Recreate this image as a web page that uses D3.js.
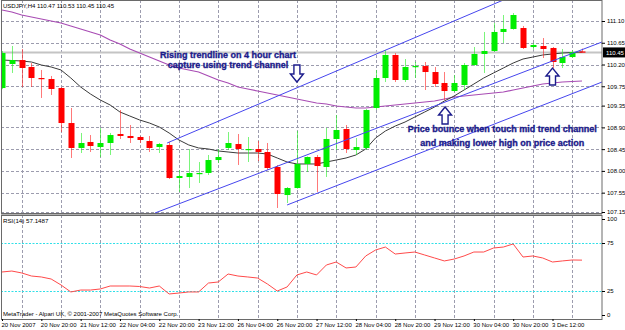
<!DOCTYPE html>
<html>
<head>
<meta charset="utf-8">
<title>USDJPY H4</title>
<script src="https://cdn.jsdelivr.net/npm/d3@7"></script>
<style>
  body { margin: 0; background: #fff; }
  text { font-family: "Liberation Sans", Arial, sans-serif; }
</style>
</head>
<body>
<div id="chart"></div>
<script>

  // bar labels along the bottom, one every 4 bars (H4)
  var timeLabels = ["20 Nov 2007", "20 Nov 20:00", "21 Nov 12:00", "22 Nov 04:00", "22 Nov 20:00",
    "23 Nov 12:00", "26 Nov 04:00", "26 Nov 20:00", "27 Nov 12:00", "28 Nov 04:00",
    "28 Nov 20:00", "29 Nov 12:00", "30 Nov 04:00", "30 Nov 20:00", "3 Dec 12:00"];
  var timeLabelBars = [0, 4, 8, 12, 16, 20, 24, 28, 32, 36, 40, 44, 48, 52, 56];
  var gridBars = [2, 6, 10, 14, 18, 22, 26, 30, 34, 38, 42, 46, 50, 54, 58];

  var priceTicks = [111.10, 110.65, 110.20, 109.75, 109.35, 108.90, 108.45, 108.00, 107.55, 107.15];
  var rsiTicks = [100, 75, 25, 0];
  var rsiLevels = [75, 25];

  var openP = [109.714, 110.211, 110.293, 110.149, 109.921, 109.900, 109.714, 108.990, 108.474, 108.598,
    108.494, 108.577, 108.763, 108.722, 108.701, 108.618, 108.494, 108.536, 107.853, 107.874,
    107.936, 107.957, 108.225, 108.474, 108.556, 108.432, 108.453, 108.391, 108.081, 107.501,
    107.646, 108.143, 108.287, 108.081, 108.660, 108.866, 108.432, 108.474, 109.301, 109.921,
    110.397, 109.880, 110.149, 110.169, 110.045, 109.818, 109.652, 109.776, 110.190, 110.418,
    110.480, 110.873, 110.935, 110.955, 110.562, 110.583, 110.542, 110.231, 110.355, 110.47];
  var highP = [110.480, 110.583, 110.521, 110.231, 110.087, 109.963, 109.730, 109.301, 108.784, 108.742,
    108.887, 108.784, 109.259, 108.949, 108.722, 108.722, 108.577, 108.598, 108.019, 108.453,
    108.184, 108.329, 108.453, 108.804, 108.763, 108.701, 108.618, 108.577, 108.122, 107.667,
    108.825, 108.300, 108.329, 108.887, 109.156, 108.949, 108.680, 109.280, 110.087, 110.500,
    110.438, 110.314, 110.252, 110.252, 110.149, 110.045, 109.983, 110.231, 110.562, 110.873,
    111.059, 111.224, 111.265, 110.997, 110.645, 110.748, 110.562, 110.521, 110.500, 110.53];
  var lowP = [109.690, 110.025, 109.735, 109.735, 109.508, 109.570, 108.804, 108.267, 108.370, 108.391,
    108.287, 108.329, 108.660, 108.577, 108.577, 108.391, 108.370, 107.832, 107.564, 107.646,
    107.750, 107.915, 108.163, 108.432, 108.122, 108.184, 108.205, 108.019, 107.233, 107.336,
    107.630, 107.977, 107.564, 107.874, 108.432, 108.370, 108.329, 108.432, 109.259, 109.838,
    109.838, 109.838, 109.921, 109.673, 109.735, 109.466, 109.632, 109.673, 110.170, 110.025,
    110.459, 110.645, 110.920, 110.521, 110.500, 110.335, 110.128, 110.128, 110.340, 110.45];
  var closeP = [110.438, 110.293, 110.128, 109.921, 109.900, 109.694, 108.990, 108.474, 108.577, 108.515,
    108.577, 108.742, 108.722, 108.680, 108.639, 108.474, 108.556, 107.853, 107.894, 107.957,
    107.957, 108.225, 108.287, 108.577, 108.453, 108.453, 108.391, 108.060, 107.522, 107.646,
    108.143, 108.287, 108.101, 108.660, 108.846, 108.453, 108.494, 109.259, 109.921, 110.397,
    109.880, 110.149, 110.169, 110.045, 109.797, 109.652, 109.818, 110.190, 110.418, 110.480,
    110.873, 110.935, 111.224, 110.542, 110.604, 110.521, 110.252, 110.355, 110.459, 110.45];

  // moving averages
  var maDark = [110.293, 110.283, 110.273, 110.252, 110.190, 110.149, 110.087, 109.921, 109.735, 109.590,
    109.466, 109.363, 109.218, 109.135, 109.053, 108.990, 108.908, 108.784, 108.639, 108.536,
    108.474, 108.453, 108.412, 108.391, 108.370, 108.370, 108.370, 108.349, 108.267, 108.184,
    108.143, 108.143, 108.143, 108.184, 108.225, 108.267, 108.329, 108.453, 108.680, 108.825,
    108.928, 109.011, 109.115, 109.218, 109.321, 109.446, 109.549, 109.673, 109.797, 109.921,
    110.025, 110.128, 110.231, 110.314, 110.355, 110.397, 110.418, 110.438, 110.449, 110.459];
  var maSlow = [111.327, 111.286, 111.224, 111.183, 111.141, 111.100, 111.059, 110.997, 110.935, 110.873,
    110.810, 110.707, 110.624, 110.521, 110.438, 110.355, 110.273, 110.190, 110.128, 110.087,
    110.045, 109.963, 109.880, 109.818, 109.735, 109.694, 109.652, 109.611, 109.570, 109.528,
    109.487, 109.446, 109.404, 109.384, 109.342, 109.321, 109.301, 109.301, 109.321, 109.342,
    109.363, 109.384, 109.404, 109.425, 109.446, 109.487, 109.528, 109.549, 109.570, 109.590,
    109.611, 109.632, 109.673, 109.714, 109.756, 109.797, 109.818, 109.838, 109.849, 109.859];

  var rsi = [44.8, 45.8, 43.8, 40.6, 39.6, 37.5, 31.3, 24.0, 26.0, 26.0,
    27.1, 30.2, 30.2, 30.2, 29.7, 28.1, 30.2, 21.9, 22.9, 24.0,
    24.0, 33.3, 34.4, 42.7, 40.6, 39.6, 38.5, 32.3, 25.0, 29.2,
    41.7, 44.8, 41.7, 52.1, 55.2, 49.0, 50.0, 61.5, 67.7, 70.8,
    63.5, 64.6, 65.6, 62.5, 59.4, 56.3, 58.3, 61.5, 65.6, 65.6,
    69.8, 70.8, 74.0, 60.4, 61.5, 59.4, 55.2, 56.3, 57.3, 57.1487];

  // trend channel: [bar1, price1, bar2, price2]
  var channel = [
    [16.8, 108.577, 51.0, 111.534],
    [15.56, 107.129, 61.04, 110.666],
    [29.0, 107.295, 61.04, 109.838]
  ];

  var lastPrice = 110.45;
  var legendText = "USDJPY,H4  110.47 110.53 110.45 110.45";
  var rsiText = "RSI(14) 57.1487";
  var creditText = "MetaTrader - Alpari UK, \u00a9 2001-2007 MetaQuotes Software Corp.";

  // annotations: [bar, price, text]
  var notes = [
    [23.0, 110.335, "Rising trendline on 4 hour chart"],
    [23.0, 110.128, "capture using trend channel"],
    [50.9, 108.804, "Price bounce when touch mid trend channel"],
    [50.9, 108.515, "and making lower high on price action"]
  ];
  // arrows: [bar, tip price, direction]  (1 = down, -1 = up)
  var arrows = [[30.0, 109.838, 1], [45.07, 109.322, -1], [56.0, 110.128, -1]];

  var W = 625, H = 330;
  var left = 1, right = 602, mainTop = 0, mainBottom = 213, rsiTop = 215, rsiBottom = 319;

  var svg = d3.select("#chart").append("svg")
    .attr("width", W).attr("height", H);
  svg.append("rect").attr("width", W).attr("height", H).attr("fill", "#fff");

  var x = d3.scaleLinear().domain([0, 59]).range([2, 582]);
  var y = d3.scaleLinear().domain([107.15, 111.10]).range([212, 21]);
  var yr = d3.scaleLinear().domain([0, 100]).range([315, 219]);

  var defs = svg.append("defs");
  defs.append("clipPath").attr("id", "clipMain").append("rect")
    .attr("x", left).attr("y", mainTop).attr("width", right - left).attr("height", mainBottom - mainTop);
  defs.append("clipPath").attr("id", "clipRsi").append("rect")
    .attr("x", left).attr("y", rsiTop).attr("width", right - left).attr("height", rsiBottom - rsiTop);

  var gridColor = "#9c9cae";

  // grid
  var grid = svg.append("g");
  grid.selectAll(".hg").data(priceTicks).enter().append("line")
    .attr("x1", left).attr("x2", right)
    .attr("y1", function (d) { return Math.round(y(d)) + 0.5; })
    .attr("y2", function (d) { return Math.round(y(d)) + 0.5; })
    .attr("stroke", gridColor).attr("stroke-dasharray", "3,2");
  [[mainTop, mainBottom], [rsiTop, rsiBottom]].forEach(function (p) {
    grid.selectAll(null).data(gridBars).enter().append("line")
      .attr("x1", function (d) { return Math.round(x(d)) + 0.5; })
      .attr("x2", function (d) { return Math.round(x(d)) + 0.5; })
      .attr("y1", p[0]).attr("y2", p[1])
      .attr("stroke", gridColor).attr("stroke-dasharray", "3,2");
  });

  var main = svg.append("g").attr("clip-path", "url(#clipMain)");

  // bid line
  main.append("line")
    .attr("x1", left).attr("x2", right)
    .attr("y1", y(lastPrice)).attr("y2", y(lastPrice))
    .attr("stroke", "#c4c4c4").attr("stroke-width", 2);

  var line = d3.line()
    .x(function (d, i) { return x(i); })
    .y(function (d) { return y(d); });

  main.append("path").datum(maSlow).attr("d", line)
    .attr("fill", "none").attr("stroke", "#a84cb4").attr("stroke-width", 1.2);
  main.append("path").datum(maDark).attr("d", line)
    .attr("fill", "none").attr("stroke", "#3a3a3a").attr("stroke-width", 1);

  // candles
  var bars = d3.range(openP.length).map(function (i) {
    return { i: i, o: openP[i], h: highP[i], l: lowP[i], c: closeP[i] };
  });
  var candle = main.selectAll(".candle").data(bars).enter().append("g");
  candle.append("line")
    .attr("x1", function (d) { return Math.round(x(d.i)) + 0.5; })
    .attr("x2", function (d) { return Math.round(x(d.i)) + 0.5; })
    .attr("y1", function (d) { return y(d.h); })
    .attr("y2", function (d) { return y(d.l); })
    .attr("stroke", function (d) { return d.c >= d.o ? "#22ee22" : "#ff2020"; })
    .attr("stroke-opacity", 0.6);
  candle.append("rect")
    .attr("x", function (d) { return Math.round(x(d.i)) - 2.5; })
    .attr("width", 6)
    .attr("y", function (d) { return y(Math.max(d.o, d.c)); })
    .attr("height", function (d) { return Math.max(1.2, Math.abs(y(d.o) - y(d.c))); })
    .attr("fill", function (d) { return d.c >= d.o ? "#00ee00" : "#ff0000"; });

  // trend channel
  main.selectAll(".trend").data(channel).enter().append("line")
    .attr("x1", function (d) { return x(d[0]); })
    .attr("y1", function (d) { return y(d[1]); })
    .attr("x2", function (d) { return x(d[2]); })
    .attr("y2", function (d) { return y(d[3]); })
    .attr("stroke", "#4646ee").attr("stroke-width", 1);

  // arrows
  function arrowPath(cx, ty, dir) {
    var p = [[-3, -17], [3, -17], [3, -8], [6.5, -8], [0, 0], [-6.5, -8], [-3, -8]];
    return "M" + p.map(function (q) { return [cx + q[0], ty + q[1] * dir].join(","); }).join("L") + "Z";
  }
  main.selectAll(".arrow").data(arrows).enter().append("path")
    .attr("d", function (d) { return arrowPath(x(d[0]), y(d[1]), d[2]); })
    .attr("fill", "#fff").attr("stroke", "#1c1c8c").attr("stroke-width", 1.4);

  // notes
  main.selectAll(".note").data(notes).enter().append("text")
    .attr("x", function (d) { return x(d[0]); })
    .attr("y", function (d) { return y(d[1]); })
    .attr("text-anchor", "middle")
    .attr("font-size", "9px").attr("font-weight", "bold")
    .attr("fill", "#1a1a8a").attr("stroke", "#1a1a8a").attr("stroke-width", 0.35)
    .text(function (d) { return d[2]; });

  // legend
  svg.append("text").attr("x", 3).attr("y", 8).attr("font-size", "6.2px").attr("fill", "#000")
    .attr("textLength", 111).attr("lengthAdjust", "spacingAndGlyphs")
    .text(legendText);

  // rsi panel
  var rsiG = svg.append("g").attr("clip-path", "url(#clipRsi)");
  rsiG.selectAll(".lvl").data(rsiLevels).enter().append("line")
    .attr("x1", left).attr("x2", right)
    .attr("y1", function (d) { return Math.round(yr(d)) + 0.5; })
    .attr("y2", function (d) { return Math.round(yr(d)) + 0.5; })
    .attr("stroke", "#30e0e8").attr("stroke-width", 1.2).attr("stroke-dasharray", "2,1.5");
  rsiG.append("path").datum(rsi)
    .attr("d", d3.line().x(function (d, i) { return x(i); }).y(function (d) { return yr(d); }))
    .attr("fill", "none").attr("stroke", "#ff4a4a").attr("stroke-width", 1);
  svg.append("text").attr("x", 3).attr("y", 223).attr("font-size", "6.2px").attr("fill", "#000")
    .text(rsiText);
  svg.append("text").attr("x", 3).attr("y", 316).attr("font-size", "6px").attr("fill", "#000")
    .text(creditText);

  // frames
  svg.append("rect").attr("x", left + 0.5).attr("y", mainTop + 0.5)
    .attr("width", right - left - 0.5).attr("height", mainBottom - mainTop)
    .attr("fill", "none").attr("stroke", "#6a6a6a");
  svg.append("rect").attr("x", left + 0.5).attr("y", rsiTop + 0.5)
    .attr("width", right - left - 0.5).attr("height", rsiBottom - rsiTop)
    .attr("fill", "none").attr("stroke", "#6a6a6a");
  svg.append("line").attr("x1", left).attr("x2", right).attr("y1", 214.5).attr("y2", 214.5)
    .attr("stroke", "#b0b0b0");

  // price axis
  var yAxis = svg.append("g").attr("transform", "translate(" + right + ",0)")
    .call(d3.axisRight(y).tickValues(priceTicks).tickFormat(d3.format(".2f")).tickSize(3).tickPadding(2));
  var rAxis = svg.append("g").attr("transform", "translate(" + right + ",0)")
    .call(d3.axisRight(yr).tickValues(rsiTicks).tickFormat(d3.format("d")).tickSize(3).tickPadding(2));
  [yAxis, rAxis].forEach(function (g) {
    g.select(".domain").remove();
    g.selectAll("text").attr("font-size", "6px").attr("font-family", "Liberation Sans, Arial, sans-serif").attr("fill", "#000");
    g.selectAll("line").attr("stroke", "#000");
  });

  // last price box
  svg.append("rect").attr("x", right + 1).attr("y", y(lastPrice) - 5)
    .attr("width", 22).attr("height", 10).attr("fill", "#000");
  svg.append("text").attr("x", right + 4).attr("y", y(lastPrice) + 2.2)
    .attr("font-size", "6px").attr("fill", "#fff").text(d3.format(".2f")(lastPrice));

  // time axis
  var xAxis = svg.append("g").attr("transform", "translate(0," + rsiBottom + ")")
    .call(d3.axisBottom(x).tickValues(timeLabelBars)
      .tickFormat(function (d, i) { return timeLabels[i]; }).tickSize(2).tickPadding(2));
  xAxis.select(".domain").remove();
  xAxis.selectAll("text").attr("text-anchor", "start").attr("dx", "-1")
    .attr("font-size", "6px").attr("font-family", "Liberation Sans, Arial, sans-serif").attr("fill", "#000");
  xAxis.selectAll("line").attr("stroke", "#000");

</script>
</body>
</html>
